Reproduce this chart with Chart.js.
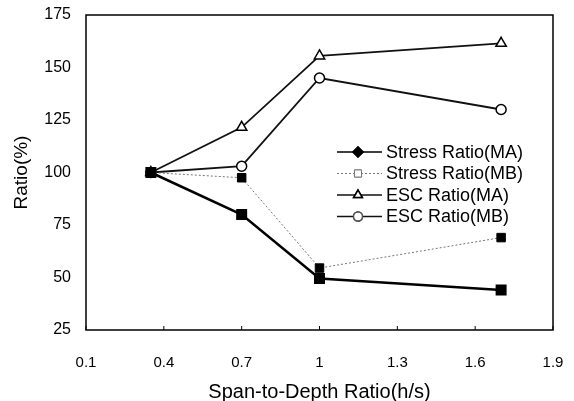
<!DOCTYPE html>
<html>
<head>
<meta charset="utf-8">
<script src="https://cdn.jsdelivr.net/npm/chart.js@4.4.1/dist/chart.umd.min.js"></script>
<style>
  html, body { margin: 0; padding: 0; background: #fff; }
  #wrap { width: 574px; height: 401px; }
</style>
</head>
<body>
<div id="wrap"><canvas id="chart"></canvas></div>
<script>
// span-to-depth ratios (h/s)
const spans = [0.35, 0.7, 1.0, 1.7];

// ratios in %
const stressMA = [100, 80, 49.5, 44];
const stressMB = [100, 97.5, 54.5, 69];
const escMA = [100, 121.5, 155.5, 161.5];
const escMB = [100, 103, 145, 130];

const xTicks = [0.1, 0.4, 0.7, 1.0, 1.3, 1.6, 1.9];
const yTicks = [25, 50, 75, 100, 125, 150, 175];

const toPoints = (ys) => ys.map((y, i) => ({ x: spans[i], y: y }));

const font = "'Liberation Sans', Arial, sans-serif";

// fixed axis sizes; drop the automatic label padding so the plot box stays put
const fixAxis = (size) => (axis) => {
  if (axis.isHorizontal()) axis.height = size;
  else axis.width = size;
  axis.paddingTop = 0;
  axis.paddingBottom = 0;
  axis.paddingLeft = 0;
  axis.paddingRight = 0;
};

// box around the plot area plus short inward ticks on the x axis
const framePlugin = {
  id: "frame",
  afterDatasetsDraw(chart) {
    const { ctx, chartArea: a, scales } = chart;
    ctx.save();
    ctx.strokeStyle = "#000";
    ctx.lineWidth = 1.5;
    ctx.strokeRect(a.left, a.top, a.right - a.left, a.bottom - a.top);
    ctx.lineWidth = 1;
    xTicks.forEach((v) => {
      const px = scales.x.getPixelForValue(v);
      ctx.beginPath();
      ctx.moveTo(px, a.bottom);
      ctx.lineTo(px, a.bottom - 4);
      ctx.stroke();
    });
    ctx.restore();
  },
};

// legend box sitting inside the plot area
const legendPlugin = {
  id: "insideLegend",
  afterDraw(chart) {
    const { ctx, chartArea: a } = chart;
    const x0 = a.right - 216;
    const y0 = a.top + 137;
    const rowH = 21.5;
    ctx.save();
    chart.data.datasets.forEach((ds, i) => {
      const y = y0 + i * rowH;
      ctx.strokeStyle = ds.borderColor;
      ctx.lineWidth = Math.min(ds.borderWidth, 1.5);
      ctx.setLineDash(ds.borderDash || []);
      ctx.beginPath();
      ctx.moveTo(x0, y);
      ctx.lineTo(x0 + 45, y);
      ctx.stroke();
      ctx.setLineDash([]);
      Chart.helpers.drawPoint(
        ctx,
        {
          pointStyle: ds.legendStyle,
          radius: ds.legendRadius,
          borderWidth: 1.2,
          rotation: 0,
        },
        x0 + 21,
        y
      );
      ctx.fillStyle = ds.legendFill;
      ctx.strokeStyle = ds.legendStroke;
      ctx.fill();
      ctx.stroke();
      ctx.fillStyle = "#000";
      ctx.font = "18px " + font;
      ctx.textBaseline = "middle";
      ctx.textAlign = "left";
      ctx.fillText(ds.label, x0 + 49, y + 1);
    });
    ctx.restore();
  },
};

const datasets = [
  {
    label: "Stress Ratio(MA)",
    data: toPoints(stressMA),
    borderColor: "#000",
    borderWidth: 2.5,
    pointStyle: "rect",
    pointRadius: 6,
    pointBackgroundColor: "#000",
    pointBorderColor: "#000",
    legendStyle: "rectRot",
    legendFill: "#000",
    legendStroke: "#000",
    legendRadius: 5,
  },
  {
    label: "Stress Ratio(MB)",
    data: toPoints(stressMB),
    borderColor: "#777",
    borderWidth: 1,
    borderDash: [2, 2],
    pointStyle: "rect",
    pointRadius: 6,
    pointBackgroundColor: "#000",
    pointBorderColor: "#000",
    legendStyle: "rect",
    legendFill: "#fff",
    legendStroke: "#777",
    legendRadius: 5,
  },
  {
    label: "ESC Ratio(MA)",
    data: toPoints(escMA),
    borderColor: "#111",
    borderWidth: 1.8,
    pointStyle: "triangle",
    pointRadius: 6,
    pointBorderWidth: 1.5,
    pointBackgroundColor: "#fff",
    pointBorderColor: "#000",
    legendStyle: "triangle",
    legendFill: "#fff",
    legendStroke: "#000",
    legendRadius: 5,
  },
  {
    label: "ESC Ratio(MB)",
    data: toPoints(escMB),
    borderColor: "#111",
    borderWidth: 1.8,
    pointStyle: "circle",
    pointRadius: 5,
    pointBorderWidth: 1.5,
    pointBackgroundColor: "#fff",
    pointBorderColor: "#000",
    legendStyle: "circle",
    legendFill: "#fff",
    legendStroke: "#555",
    legendRadius: 4.5,
  },
];

new Chart(document.getElementById("chart"), {
  type: "line",
  data: { datasets: datasets },
  options: {
    responsive: true,
    maintainAspectRatio: false,
    animation: false,
    layout: {
      padding: { top: 15, right: 21, left: 0, bottom: 0 },
    },
    plugins: {
      legend: { display: false },
      tooltip: { enabled: false },
    },
    scales: {
      x: {
        type: "linear",
        min: 0.1,
        max: 1.9,
        afterBuildTicks: (axis) => {
          axis.ticks = xTicks.map((v) => ({ value: v }));
        },
        afterFit: fixAxis(71),
        grid: { display: false, drawTicks: false },
        border: { display: false },
        ticks: {
          padding: 24,
          color: "#000",
          font: { family: font, size: 15 },
          callback: (v) => String(Math.round(v * 10) / 10),
        },
        title: {
          display: true,
          text: "Span-to-Depth Ratio(h/s)",
          color: "#000",
          font: { family: font, size: 20 },
          padding: { top: 0, bottom: -3 },
        },
      },
      y: {
        min: 25,
        max: 175,
        afterBuildTicks: (axis) => {
          axis.ticks = yTicks.map((v) => ({ value: v }));
        },
        afterFit: fixAxis(86),
        grid: { display: false, drawTicks: false },
        border: { display: false },
        ticks: {
          padding: 15,
          color: "#000",
          font: { family: font, size: 16 },
        },
        title: {
          display: true,
          text: "Ratio(%)",
          color: "#000",
          font: { family: font, size: 19 },
          padding: { top: 10, bottom: 0 },
        },
      },
    },
  },
  plugins: [framePlugin, legendPlugin],
});
</script>
</body>
</html>
